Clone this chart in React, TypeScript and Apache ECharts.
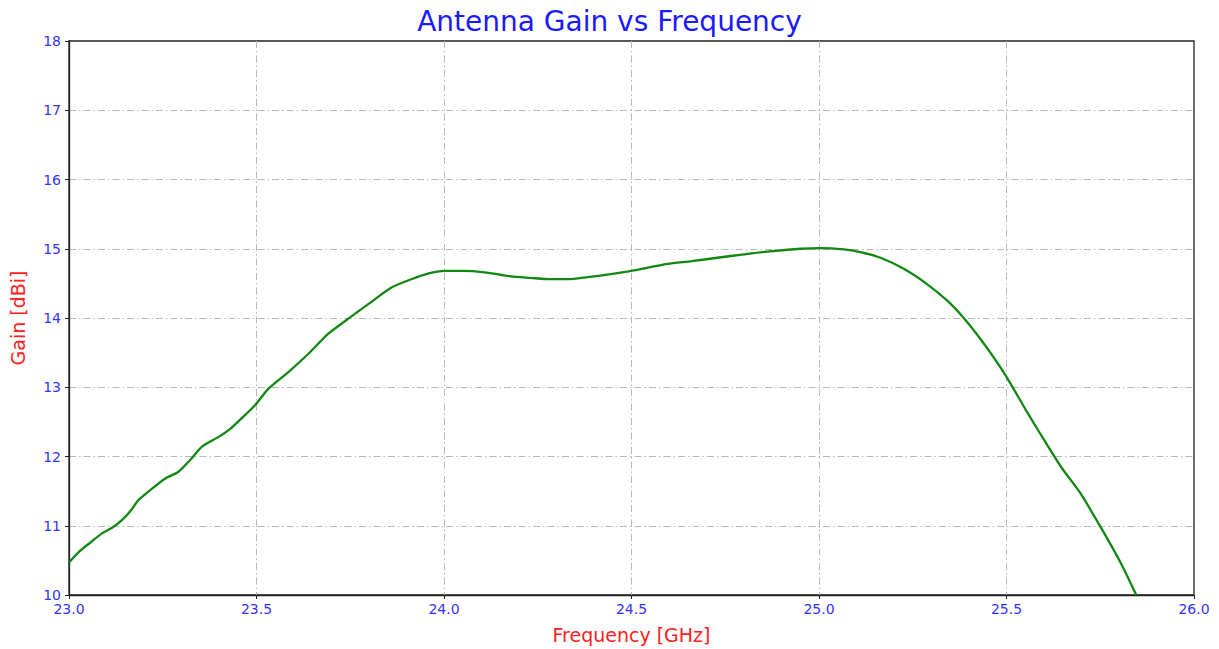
import React, { useEffect, useRef } from "react";
import * as echarts from "echarts";

const freqGHz = [
  23.0, 23.03, 23.06, 23.088, 23.115, 23.141, 23.165, 23.185, 23.22, 23.256, 23.292,
  23.325, 23.354, 23.398, 23.43, 23.46, 23.496, 23.532, 23.585, 23.638, 23.691,
  23.745, 23.798, 23.86, 23.913, 23.957, 24.0, 24.05, 24.108, 24.179, 24.23,
  24.286, 24.33, 24.383, 24.44, 24.5, 24.596, 24.66, 24.729, 24.8, 24.862,
  24.951, 25.004, 25.066, 25.11, 25.164, 25.226, 25.288, 25.342, 25.386, 25.43,
  25.475, 25.51, 25.555, 25.608, 25.648, 25.697, 25.75, 25.803, 25.846,
];
const gainDBi = [
  10.47, 10.64, 10.77, 10.89, 10.97, 11.08, 11.22, 11.37, 11.53, 11.68, 11.78,
  11.96, 12.14, 12.28, 12.4, 12.55, 12.74, 12.98, 13.22, 13.48, 13.77,
  13.99, 14.2, 14.44, 14.56, 14.64, 14.68, 14.68, 14.66, 14.6, 14.58,
  14.56, 14.56, 14.59, 14.63, 14.68, 14.78, 14.82, 14.87, 14.92, 14.96,
  15.0, 15.01, 14.99, 14.95, 14.87, 14.71, 14.49, 14.25, 14.0, 13.7,
  13.36, 13.06, 12.64, 12.17, 11.83, 11.47, 10.99, 10.48, 10.0,
];
const titleText = "Antenna Gain vs Frequency";
const xName = "Frequency [GHz]";
const yName = "Gain [dBi]";

const FONT = "DejaVu Sans";
const gridLine = {
  show: true,
  showMinLine: false,
  showMaxLine: false,
  lineStyle: { color: "#b8b8b8", width: 1, type: [7, 3, 1.5, 3] },
};

export default function App() {
  const ref = useRef<HTMLDivElement>(null);
  useEffect(() => {
    if (!ref.current) return;
    const chart = echarts.init(ref.current, undefined, { renderer: "svg" });
    chart.setOption({
      animation: false,
      backgroundColor: "#fff",
      title: {
        text: titleText,
        left: "center",
        top: 2,
        textStyle: { color: "#1a1aff", fontSize: 28, fontWeight: "normal", fontFamily: FONT },
      },
      grid: { left: 67, right: 25, top: 41, bottom: 52, show: true, borderColor: "#222", borderWidth: 1.3 },
      xAxis: {
        type: "value",
        min: 23,
        max: 26,
        interval: 0.5,
        name: xName,
        nameLocation: "middle",
        nameGap: 30,
        nameTextStyle: { color: "#ff2020", fontSize: 19, fontFamily: FONT },
        axisLine: { show: true, lineStyle: { color: "#222", width: 1.3 } },
        axisTick: { show: true, inside: false, length: 4, lineStyle: { color: "#222" } },
        axisLabel: { color: "#3333ff", fontSize: 14, fontFamily: FONT, margin: 7, formatter: (v: number) => v.toFixed(1) },
        splitLine: gridLine,
      },
      yAxis: {
        type: "value",
        min: 10,
        max: 18,
        interval: 1,
        name: yName,
        nameLocation: "middle",
        nameGap: 42,
        nameTextStyle: { color: "#ff2020", fontSize: 19, fontFamily: FONT },
        axisLine: { show: true, lineStyle: { color: "#222", width: 1.3 } },
        axisTick: { show: true, inside: false, length: 4, lineStyle: { color: "#222" } },
        axisLabel: { color: "#3333ff", fontSize: 14, fontFamily: FONT, margin: 8 },
        splitLine: gridLine,
      },
      series: [
        {
          type: "line",
          data: freqGHz.map((f, i) => [f, gainDBi[i]]),
          showSymbol: false,
          smooth: 0.25,
          lineStyle: { color: "#118811", width: 2.3 },
          itemStyle: { color: "#118811" },
          clip: true,
        },
      ],
    });
    return () => chart.dispose();
  }, []);
  return <div ref={ref} style={{ width: 1219, height: 649, position: "absolute", left: 0, top: 0 }} />;
}
